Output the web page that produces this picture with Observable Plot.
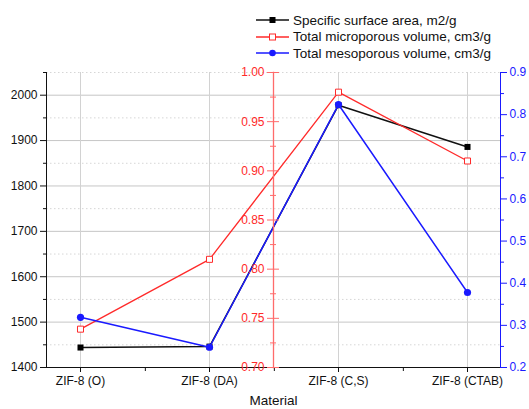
<!DOCTYPE html>
<html>
<head>
<meta charset="utf-8">
<script src="https://cdn.jsdelivr.net/npm/d3@7"></script>
<script src="https://cdn.jsdelivr.net/npm/@observablehq/plot@0.6"></script>
<style>
  html, body { margin: 0; padding: 0; background: #fff; }
  body { font-family: "Liberation Sans", Arial, sans-serif; }
  #chart { position: relative; width: 529px; height: 409px; overflow: hidden; }
  #chart svg { position: absolute; left: 0; top: 0; pointer-events: none; }
  #legend { position: absolute; left: 256px; top: 12px; font-size: 13.5px; color: #111; }
  #legend .row { display: flex; align-items: center; height: 16.6px; white-space: nowrap; }
  #legend svg { position: static; margin-right: 4px; }
</style>
</head>
<body>
<div id="chart"></div>
<script>
// ---- data ----
const materials = ["ZIF-8 (O)", "ZIF-8 (DA)", "ZIF-8 (C,S)", "ZIF-8 (CTAB)"];
const surfaceArea = [1444, 1446, 1978, 1886];          // m2/g (left axis)
const microporousVolume = [0.739, 0.810, 0.980, 0.910]; // cm3/g (middle red axis)
const mesoporousVolume = [0.319, 0.248, 0.824, 0.378];  // cm3/g (right blue axis)
const seriesNames = ["Specific surface area, m2/g", "Total microporous volume, cm3/g", "Total mesoporous volume, cm3/g"];
const xLabel = "Material";

const areaDomain = [1400, 2050];
const areaTicks = [1400, 1500, 1600, 1700, 1800, 1900, 2000];
const areaMinorTicks = [1450, 1550, 1650, 1750, 1850, 1950, 2050];
const microDomain = [0.70, 1.00];
const microTicks = [0.70, 0.75, 0.80, 0.85, 0.90, 0.95, 1.00];
const microMinorTicks = [0.725, 0.775, 0.825, 0.875, 0.925, 0.975];
const mesoDomain = [0.2, 0.9];
const mesoTicks = [0.2, 0.3, 0.4, 0.5, 0.6, 0.7, 0.8, 0.9];
const mesoMinorTicks = [0.25, 0.35, 0.45, 0.55, 0.65, 0.75, 0.85];

// ---- style ----
const W = 529, H = 409;
const M = {top: 72, right: 29, bottom: 42, left: 46};
const FONT = '"Liberation Sans", Arial, sans-serif';
const BLACK = "#111", RED = "#ff2a2a", RED_AXIS = "#ff6b6b", BLUE = "#1a1aff";
const colors = [BLACK, RED, BLUE];

const areaData = materials.map((m, i) => ({m, v: surfaceArea[i]}));
const microData = materials.map((m, i) => ({m, v: microporousVolume[i]}));
const mesoData = materials.map((m, i) => ({m, v: mesoporousVolume[i]}));

const xOpts = {type: "point", domain: materials, padding: 0.25, axis: null};
const common = {
  width: W, height: H,
  marginTop: M.top, marginRight: M.right, marginBottom: M.bottom, marginLeft: M.left,
  style: {fontFamily: FONT, fontSize: "12px", background: "transparent", color: "#000", overflow: "visible"}
};
const blank = () => "";

const chart = document.getElementById("chart");

// base: grid, left axis, x axis, surface area
const base = Plot.plot({
  ...common,
  x: xOpts,
  y: {domain: areaDomain, axis: null},
  marks: [
    Plot.gridY(areaMinorTicks, {stroke: "#d6d6d6", strokeOpacity: 1, strokeDasharray: "1.5,2.5"}),
    Plot.gridY(areaTicks.slice(1), {stroke: "#c6c6c6", strokeOpacity: 1}),
    Plot.gridX(materials, {stroke: "#d2d2d2", strokeOpacity: 1}),
    Plot.axisY(areaTicks, {anchor: "left", tickSize: 6, tickPadding: 3, fontSize: 12, label: null, color: "#111", tickFormat: d3.format("d")}),
    Plot.axisY(areaMinorTicks, {anchor: "left", tickSize: 3, tickFormat: blank, label: null, color: "#111"}),
    Plot.axisX(materials, {anchor: "bottom", tickSize: 5, tickPadding: 4, fontSize: 12, label: null, color: "#111"}),
    Plot.frame({anchor: "left", stroke: "#111"}),
    Plot.ruleY([areaDomain[0]], {stroke: "#111"}),
    Plot.line(areaData, {x: "m", y: "v", stroke: BLACK, strokeWidth: 1.5}),
    Plot.dot(areaData, {x: "m", y: "v", symbol: "square", r: 3.4, fill: "#000", stroke: null}),
    Plot.text([xLabel], {frameAnchor: "bottom", dy: 37, fontSize: 13.5, fill: "#111"})
  ]
});
chart.appendChild(base);

const xd = base.scale("x");
const xPoint = d3.scalePoint().domain(xd.domain).range(xd.range).padding(xd.padding ?? 0.25).align(xd.align ?? 0.5);
const step = xPoint.step();
const redAxisX = (xPoint(materials[1]) + xPoint(materials[2])) / 2;

// red series + minor bottom ticks
const redSeries = Plot.plot({
  ...common,
  x: xOpts,
  y: {domain: microDomain, axis: null},
  marks: [
    Plot.axisX(materials.slice(0, 3), {anchor: "bottom", tickSize: 4, tickFormat: blank, label: null, dx: step / 2, color: "#111"}),
    Plot.line(microData, {x: "m", y: "v", stroke: RED, strokeWidth: 1.3}),
    Plot.dot(microData, {x: "m", y: "v", symbol: "square", r: 3.4, fill: "#fff", stroke: RED, strokeWidth: 1})
  ]
});
chart.appendChild(redSeries);

// blue series + right axis
const blueSeries = Plot.plot({
  ...common,
  x: xOpts,
  y: {domain: mesoDomain, axis: null},
  marks: [
    Plot.axisY(mesoTicks, {anchor: "right", tickSize: 6, tickPadding: 3, fontSize: 12, label: null, color: BLUE, tickFormat: d3.format(".1f")}),
    Plot.axisY(mesoMinorTicks, {anchor: "right", tickSize: 3, tickFormat: blank, label: null, color: BLUE}),
    Plot.frame({anchor: "right", stroke: BLUE}),
    Plot.line(mesoData, {x: "m", y: "v", stroke: BLUE, strokeWidth: 1.5}),
    Plot.dot(mesoData, {x: "m", y: "v", r: 3.6, fill: BLUE, stroke: null})
  ]
});
chart.appendChild(blueSeries);

// red middle axis (ticks crossing the axis line)
const redAxis = Plot.plot({
  ...common,
  marginLeft: redAxisX,
  marginRight: W - redAxisX - 6,
  y: {domain: microDomain, axis: null},
  marks: [
    Plot.axisY(microTicks, {anchor: "left", tickSize: 6, tickPadding: 3, fontSize: 12, label: null, color: RED, stroke: RED_AXIS, tickFormat: d3.format(".2f")}),
    Plot.axisY(microMinorTicks, {anchor: "left", tickSize: 3, tickFormat: blank, label: null, color: RED, stroke: RED_AXIS}),
    Plot.ruleY(microTicks, {stroke: RED_AXIS}),
    Plot.ruleY(microMinorTicks, {stroke: RED_AXIS, insetRight: 3}),
    Plot.frame({anchor: "left", stroke: RED_AXIS, strokeWidth: 1.3})
  ]
});
chart.appendChild(redAxis);

// legend
const legend = document.createElement("div");
legend.id = "legend";
seriesNames.forEach((name, i) => {
  const row = document.createElement("div");
  row.className = "row";
  const sw = d3.create("svg").attr("width", 33).attr("height", 10);
  sw.append("line").attr("x1", 0).attr("x2", 33).attr("y1", 5).attr("y2", 5)
    .attr("stroke", colors[i]).attr("stroke-width", 1.5);
  if (i === 0) sw.append("rect").attr("x", 13.5).attr("y", 2).attr("width", 6).attr("height", 6).attr("fill", "#000");
  if (i === 1) sw.append("rect").attr("x", 13.5).attr("y", 2).attr("width", 6).attr("height", 6).attr("fill", "#fff").attr("stroke", RED);
  if (i === 2) sw.append("circle").attr("cx", 16.5).attr("cy", 5).attr("r", 3.3).attr("fill", BLUE);
  row.appendChild(sw.node());
  const t = document.createElement("span");
  t.textContent = name;
  row.appendChild(t);
  legend.appendChild(row);
});
chart.appendChild(legend);
</script>
</body>
</html>
